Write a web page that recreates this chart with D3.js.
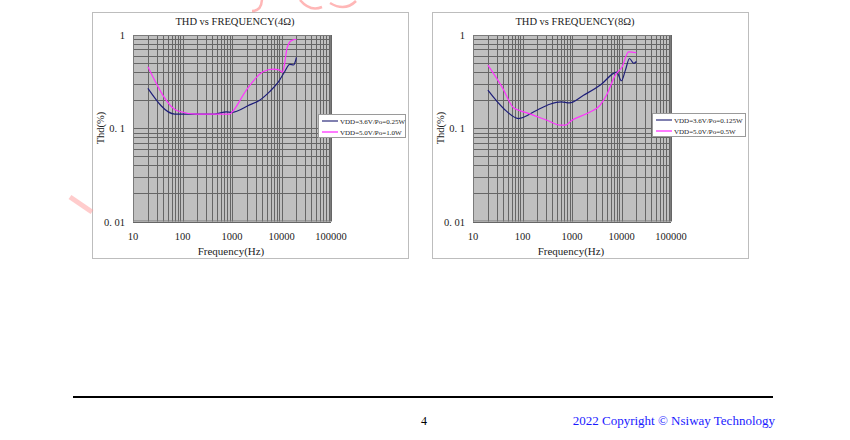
<!DOCTYPE html>
<html><head><meta charset="utf-8">
<script src="https://cdn.jsdelivr.net/npm/d3@7"></script>
<style>
body{margin:0;background:#fff;}
svg{display:block;}
text{font-family:"Liberation Serif","DejaVu Serif",serif;}
</style></head>
<body><svg id="c" width="850" height="440"></svg>
<script>
// ---- data ----
const titles = ["THD vs FREQUENCY(4Ω)", "THD vs FREQUENCY(8Ω)"];
const xTickLabels = ["10","100","1000","10000","100000"];
const xTickValues = [10,100,1000,10000,100000];
const yTickValues = [0.01,0.1,1];
const yTickLabels = ["0. 01","0. 1","1"];
const legend4 = ["VDD=3.6V/Po=0.25W","VDD=5.0V/Po=1.0W"];
const legend8 = ["VDD=3.6V/Po=0.125W","VDD=5.0V/Po=0.5W"];
const seriesColors = ["#1f1f7a","#ff33ff"];

const c4_36_f = [20,70,450,770,980,2270,3630,5760,8740,11600,14650,17600,18800,20000];
const c4_36_v = [0.268,0.142,0.142,0.150,0.148,0.178,0.200,0.247,0.316,0.404,0.485,0.477,0.51,0.577];
const c4_50_f = [20,81,190,900,980,1950,4230,6750,9150,10400,11600,12900,15800,20000];
const c4_50_v = [0.457,0.153,0.142,0.142,0.147,0.257,0.404,0.43,0.42,0.398,0.497,0.72,0.87,0.90];

const c8_36_f = [20,41.5,83,195,356,610,880,1710,4030,6900,8050,9950,12000,14500,17700,20000];
const c8_36_v = [0.256,0.163,0.127,0.156,0.181,0.192,0.187,0.226,0.30,0.388,0.40,0.323,0.42,0.56,0.496,0.52];
const c8_50_f = [20,38.5,66,123,312,580,733,1000,2000,3700,5000,7500,10300,13900,20000];
const c8_50_v = [0.476,0.278,0.166,0.146,0.122,0.108,0.108,0.122,0.144,0.177,0.227,0.371,0.457,0.66,0.645];

const svg = d3.select("#c");

function chart(ox, title, leg, s1f, s1v, s2f, s2v, legBox) {
  const g = svg.append("g");
  g.append("rect").attr("x",ox+0.5).attr("y",12.5).attr("width",316).attr("height",246)
    .attr("fill","#fff").attr("stroke","#bdbdbd");
  const L = ox+41, R = ox+239, T = 35, B = 221.5;
  const x = d3.scaleLog().domain([10,100000]).range([L,R]);
  const y = d3.scaleLog().domain([0.01,1]).range([B,T]);
  g.append("rect").attr("x",L).attr("y",T).attr("width",R-L).attr("height",B-T).attr("fill","#c0c0c0");
  const xs=[], ys=[];
  for (let d=10; d<100000; d*=10) for (let m=1;m<=9;m++) xs.push(d*m);
  xs.push(100000);
  for (let d=0.01; d<0.99; d*=10) for (let m=1;m<=9;m++) ys.push(d*m);
  ys.push(1);
  g.append("g").selectAll("line").data(xs).join("line")
    .attr("x1",d=>Math.round(x(d))+0.5).attr("x2",d=>Math.round(x(d))+0.5)
    .attr("y1",T).attr("y2",B).attr("stroke","#666").attr("stroke-width",1);
  g.append("g").selectAll("line").data(ys).join("line")
    .attr("y1",d=>Math.round(y(d))+0.5).attr("y2",d=>Math.round(y(d))+0.5)
    .attr("x1",L).attr("x2",R).attr("stroke","#666").attr("stroke-width",1);
  g.append("rect").attr("x",L+0.5).attr("y",T+0.5).attr("width",R-L-1).attr("height",B-T-1)
    .attr("fill","none").attr("stroke","#7a7a7a");
  g.append("g").selectAll("text").data(xTickValues).join("text")
    .attr("x",d=>x(d)).attr("y",240).attr("text-anchor","middle").attr("font-size",10.5)
    .attr("fill","#222").text((d,i)=>xTickLabels[i]);
  g.append("g").selectAll("text").data(yTickValues).join("text")
    .attr("x",L-8).attr("y",d=>y(d)+4).attr("text-anchor","end").attr("font-size",10.5)
    .attr("fill","#222").text((d,i)=>yTickLabels[i]);
  g.append("text").attr("x",ox+143).attr("y",25).attr("text-anchor","middle").attr("font-size",10.5)
    .attr("fill","#222").text(title);
  g.append("text").attr("x",ox+139).attr("y",255).attr("text-anchor","middle").attr("font-size",11)
    .attr("fill","#222").text("Frequency(Hz)");
  g.append("text").attr("transform",`translate(${ox+12},128) rotate(-90)`).attr("text-anchor","middle")
    .attr("font-size",10.5).attr("fill","#222").text("Thd(%)");
  const line = d3.line().x(d=>x(d[0])).y(d=>y(d[1])).curve(d3.curveMonotoneX);
  const d1 = s1f.map((f,i)=>[f,s1v[i]]), d2 = s2f.map((f,i)=>[f,s2v[i]]);
  g.append("path").attr("d",line(d1)).attr("fill","none").attr("stroke",seriesColors[0]).attr("stroke-width",1.2);
  g.append("path").attr("d",line(d2)).attr("fill","none").attr("stroke",seriesColors[1]).attr("stroke-width",1.2);
  const lg = g.append("g");
  lg.append("rect").attr("x",legBox[0]+0.5).attr("y",legBox[1]+0.5).attr("width",legBox[2]).attr("height",legBox[3])
    .attr("fill","#fff").attr("stroke","#9a9a9a");
  [0,1].forEach(i=>{
    const yy = legBox[1]+7+i*11;
    lg.append("line").attr("x1",legBox[0]+4).attr("x2",legBox[0]+20).attr("y1",yy).attr("y2",yy)
      .attr("stroke", i===0 ? "#8080b0" : seriesColors[1]).attr("stroke-width",i===0?2:1.3);
    lg.append("text").attr("x",legBox[0]+22).attr("y",yy+2.5).attr("font-size",7).attr("fill","#222").text(leg[i]);
  });
}

chart(92, titles[0], legend4, c4_36_f, c4_36_v, c4_50_f, c4_50_v, [318,114,87,23]);
chart(432, titles[1], legend8, c8_36_f, c8_36_v, c8_50_f, c8_50_v, [652,113,93,23]);

// watermark fragments
svg.append("path").attr("d","M70,197 L92,212").attr("stroke","#ff9a9a").attr("stroke-width",5).attr("opacity",0.5);
svg.append("path").attr("d","M262,-2 Q262,11 252,11 M300,0 Q310,12 322,7 M330,3 Q345,12 356,1").attr("fill","none")
  .attr("stroke","#ff6060").attr("stroke-width",2.5).attr("opacity",0.45);

// footer
svg.append("line").attr("x1",73).attr("x2",773).attr("y1",397).attr("y2",397).attr("stroke","#000").attr("stroke-width",2);
svg.append("text").attr("x",424).attr("y",425).attr("text-anchor","middle").attr("font-size",12).attr("fill","#000").text("4");
svg.append("text").attr("x",775).attr("y",425).attr("text-anchor","end").attr("font-size",13).attr("fill","#1a1aff")
  .text("2022 Copyright © Nsiway Technology");
</script></body></html>
